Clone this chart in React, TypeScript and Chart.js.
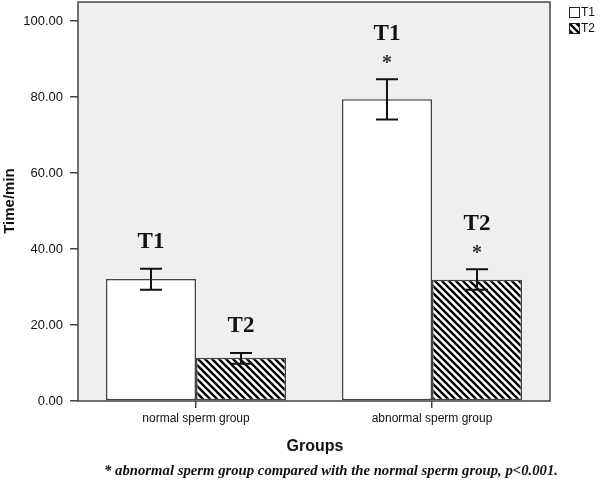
import React, { useEffect, useRef } from "react";
import { Chart, registerables } from "chart.js";
Chart.register(...registerables);

const categories = ["normal sperm group", "abnormal sperm group"];
const seriesNames = ["T1", "T2"];
const t1Means = [32.1, 79.4];
const t1ErrLow = [29.3, 74.1];
const t1ErrHigh = [34.8, 84.7];
const t2Means = [11.4, 31.9];
const t2ErrLow = [9.8, 29.3];
const t2ErrHigh = [12.6, 34.7];
const t1Stars = [false, true];
const t2Stars = [false, true];
const yTicks = [0, 20, 40, 60, 80, 100];
const yMin = 0;
const yMax = 105;
const yTitle = "Time/min";
const xTitle = "Groups";
const footnote = "* abnormal sperm group compared with the normal sperm group, p<0.001.";

function makeHatch(): CanvasPattern | string {
  const c = document.createElement("canvas");
  const s = 7;
  c.width = s;
  c.height = s;
  const g = c.getContext("2d");
  if (!g) return "#000";
  g.fillStyle = "#ffffff";
  g.fillRect(0, 0, s, s);
  g.strokeStyle = "#000000";
  g.lineWidth = 2.3;
  g.beginPath();
  g.moveTo(-s, -s);
  g.lineTo(2 * s, 2 * s);
  g.moveTo(0, -s);
  g.lineTo(2 * s, s);
  g.moveTo(-s, 0);
  g.lineTo(s, 2 * s);
  g.stroke();
  const p = g.createPattern(c, "repeat");
  return p || "#000";
}

export default function App() {
  const ref = useRef<HTMLCanvasElement | null>(null);

  useEffect(() => {
    document.body.style.margin = "0";
    const canvas = ref.current;
    if (!canvas) return;
    const hatch = makeHatch();
    const errLow = [t1ErrLow, t2ErrLow];
    const errHigh = [t1ErrHigh, t2ErrHigh];
    const stars = [t1Stars, t2Stars];

    const decor = {
      id: "decor",
      beforeDraw(chart: any) {
        const { ctx, chartArea: a } = chart;
        ctx.save();
        ctx.fillStyle = "#ffffff";
        ctx.fillRect(0, 0, chart.width, chart.height);
        ctx.fillStyle = "#efefef";
        ctx.fillRect(a.left, a.top, a.right - a.left, a.bottom - a.top);
        ctx.restore();
      },
      afterDatasetsDraw(chart: any) {
        const { ctx, chartArea: a } = chart;
        const ys = chart.scales.y;
        ctx.save();
        for (let d = 0; d < 2; d++) {
          const meta = chart.getDatasetMeta(d);
          meta.data.forEach((bar: any, j: number) => {
            const x = bar.x;
            const yHi = ys.getPixelForValue(errHigh[d][j]);
            const yLo = ys.getPixelForValue(errLow[d][j]);
            ctx.strokeStyle = "#111";
            ctx.lineWidth = 2;
            ctx.beginPath();
            ctx.moveTo(x, yHi);
            ctx.lineTo(x, yLo);
            ctx.moveTo(x - 11, yHi);
            ctx.lineTo(x + 11, yHi);
            ctx.moveTo(x - 11, yLo);
            ctx.lineTo(x + 11, yLo);
            ctx.stroke();
            ctx.textAlign = "center";
            ctx.textBaseline = "middle";
            ctx.fillStyle = "#111";
            if (stars[d][j]) {
              ctx.font = "bold 20px 'Liberation Serif'";
              ctx.fillStyle = "#333";
              ctx.fillText("*", x, yHi - 15);
              ctx.fillStyle = "#111";
              ctx.font = "bold 23px 'Liberation Serif'";
              ctx.fillText(seriesNames[d], x, yHi - 45);
            } else {
              ctx.font = "bold 23px 'Liberation Serif'";
              ctx.fillText(seriesNames[d], x, yHi - 27);
            }
          });
        }
        ctx.strokeStyle = "#444";
        ctx.lineWidth = 1.5;
        ctx.strokeRect(a.left, a.top, a.right - a.left, a.bottom - a.top);
        const lx = 569;
        const boxes = [7, 23];
        for (let d = 0; d < 2; d++) {
          ctx.fillStyle = d === 0 ? "#ffffff" : (hatch as any);
          ctx.fillRect(lx, boxes[d], 11, 11);
          ctx.strokeStyle = "#222";
          ctx.lineWidth = 1;
          ctx.strokeRect(lx + 0.5, boxes[d] + 0.5, 10, 10);
          ctx.fillStyle = "#111";
          ctx.font = "12px 'Liberation Sans'";
          ctx.textAlign = "left";
          ctx.textBaseline = "middle";
          ctx.fillText(chart.data.datasets[d].label, lx + 12, boxes[d] + 6);
        }
        ctx.fillStyle = "#111";
        ctx.font = "bold 15px 'Liberation Sans'";
        ctx.textAlign = "center";
        ctx.textBaseline = "middle";
        ctx.save();
        ctx.translate(10, 201);
        ctx.rotate(-Math.PI / 2);
        ctx.fillText(yTitle, 0, 0);
        ctx.restore();
        ctx.font = "bold 16px 'Liberation Sans'";
        ctx.fillText(xTitle, 315, 447);
        ctx.font = "italic bold 15px 'Liberation Serif'";
        ctx.fillText(footnote, 331, 471, 454);
        ctx.restore();
      },
    };

    const chart = new Chart(canvas, {
      type: "bar",
      data: {
        labels: categories,
        datasets: [
          {
            label: seriesNames[0],
            data: t1Means,
            backgroundColor: "#ffffff",
            borderColor: "#444",
            borderWidth: 1.5,
            borderSkipped: false,
          },
          {
            label: seriesNames[1],
            data: t2Means,
            backgroundColor: hatch as any,
            borderColor: "#444",
            borderWidth: 1.5,
            borderSkipped: false,
          },
        ],
      },
      options: {
        responsive: false,
        animation: false,
        devicePixelRatio: 1,
        layout: { padding: { left: 0, right: 50, top: 2, bottom: 0 } },
        plugins: {
          legend: { display: false },
          tooltip: { enabled: false },
          title: { display: false },
        },
        datasets: {
          bar: { barPercentage: 1, categoryPercentage: 0.763 },
        },
        scales: {
          x: {
            type: "category",
            offset: true,
            grid: {
              offset: false,
              drawOnChartArea: false,
              drawTicks: true,
              tickLength: 7,
              color: "#444",
              lineWidth: 1.5,
            },
            border: { display: false },
            ticks: {
              color: "#111",
              padding: 3,
              font: { family: "'Liberation Sans'", size: 12 },
              maxRotation: 0,
            },
            afterFit(scale: any) {
              scale.height = 89;
              scale.paddingLeft = 0;
              scale.paddingRight = 0;
            },
          },
          y: {
            type: "linear",
            min: yMin,
            max: yMax,
            grid: {
              drawOnChartArea: false,
              drawTicks: true,
              tickLength: 8,
              color: "#444",
              lineWidth: 1.5,
            },
            border: { display: false },
            afterBuildTicks(scale: any) {
              scale.ticks = yTicks.map((v) => ({ value: v }));
            },
            ticks: {
              color: "#111",
              padding: 7,
              font: { family: "'Liberation Sans'", size: 13 },
              callback: (v: any) => Number(v).toFixed(2),
            },
            afterFit(scale: any) {
              scale.width = 78;
              scale.paddingTop = 0;
              scale.paddingBottom = 0;
            },
          },
        },
      },
      plugins: [decor],
    } as any);

    return () => chart.destroy();
  }, []);

  return (
    <div style={{ width: 600, height: 490, position: "relative" }}>
      <canvas ref={ref} width={600} height={490} style={{ width: 600, height: 490, display: "block" }} />
    </div>
  );
}
